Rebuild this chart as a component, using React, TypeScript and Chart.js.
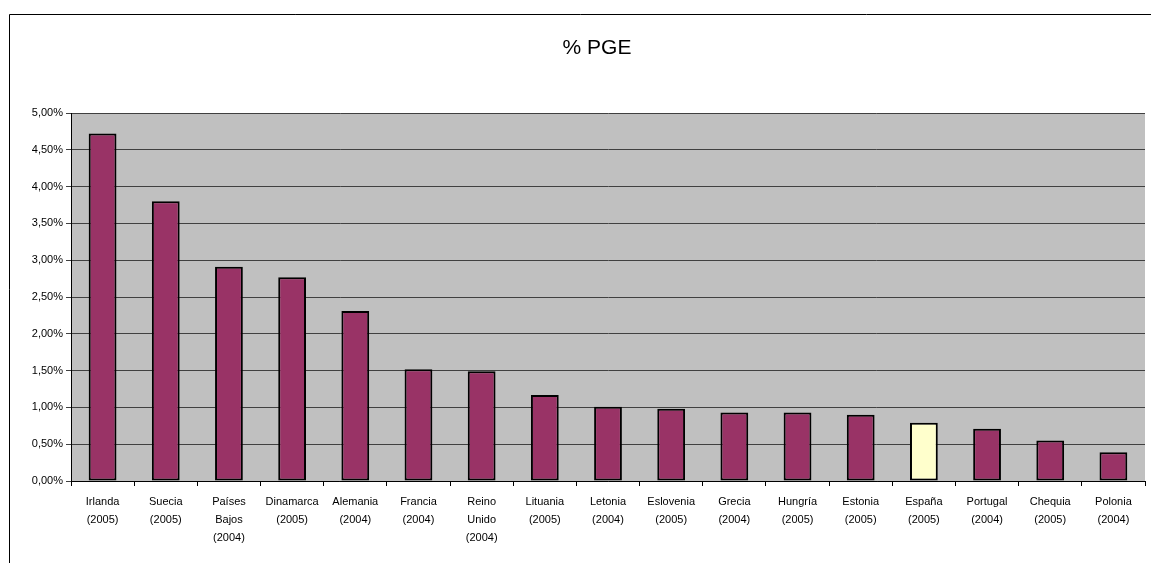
import React, { useEffect, useRef } from "react";
import { Chart, registerables } from "chart.js";

Chart.register(...registerables);

const categories: string[][] = [
  ["Irlanda", "(2005)"],
  ["Suecia", "(2005)"],
  ["Países", "Bajos", "(2004)"],
  ["Dinamarca", "(2005)"],
  ["Alemania", "(2004)"],
  ["Francia", "(2004)"],
  ["Reino", "Unido", "(2004)"],
  ["Lituania", "(2005)"],
  ["Letonia", "(2004)"],
  ["Eslovenia", "(2005)"],
  ["Grecia", "(2004)"],
  ["Hungría", "(2005)"],
  ["Estonia", "(2005)"],
  ["España", "(2005)"],
  ["Portugal", "(2004)"],
  ["Chequia", "(2005)"],
  ["Polonia", "(2004)"],
];

const pgeValues: number[] = [
  4.72, 3.8, 2.91, 2.77, 2.31, 1.52, 1.49, 1.17, 1.01, 0.98, 0.93, 0.93, 0.9,
  0.79, 0.71, 0.55, 0.39,
];

const highlightCategory = "España";
const titleText = "% PGE";

const FONT = "'Liberation Sans', Arial, sans-serif";

export default function App() {
  const canvasRef = useRef<HTMLCanvasElement | null>(null);

  useEffect(() => {
    const canvas = canvasRef.current;
    if (!canvas) return;

    const bgPlugin = {
      id: "excelFrame",
      beforeDraw(chart: any) {
        const ctx = chart.ctx;
        const a = chart.chartArea;
        ctx.save();
        ctx.fillStyle = "#ffffff";
        ctx.fillRect(0, 0, chart.width, chart.height);
        ctx.strokeStyle = "#000000";
        ctx.lineWidth = 1;
        ctx.beginPath();
        ctx.moveTo(9.5, chart.height + 2);
        ctx.lineTo(9.5, 14.5);
        ctx.lineTo(chart.width + 2, 14.5);
        ctx.stroke();
        ctx.fillStyle = "#C0C0C0";
        ctx.fillRect(a.left, a.top, a.right - a.left, a.bottom - a.top);
        ctx.fillStyle = "#000000";
        ctx.font = `21px ${FONT}`;
        ctx.textAlign = "center";
        ctx.textBaseline = "middle";
        ctx.fillText(titleText, 597, 48);
        ctx.restore();
      },
    };

    const colors = categories.map((c) =>
      c[0] === highlightCategory ? "#FFFFCC" : "#993366"
    );

    const chart = new Chart(canvas, {
      type: "bar",
      data: {
        labels: categories,
        datasets: [
          {
            data: pgeValues,
            backgroundColor: colors,
            borderColor: "#000000",
            borderWidth: 2,
            borderSkipped: false,
            categoryPercentage: 1,
            barPercentage: 0.44,
          },
        ],
      },
      options: {
        animation: false,
        responsive: false,
        layout: { padding: { top: 113, right: 6, left: 0, bottom: 0 } },
        plugins: {
          legend: { display: false },
          tooltip: { enabled: false },
          title: { display: false },
        },
        scales: {
          x: {
            grid: {
              offset: true,
              drawOnChartArea: false,
              drawTicks: true,
              tickLength: 5,
              color: "#000000",
            },
            border: { color: "#000000", width: 1 },
            ticks: {
              color: "#000000",
              font: { family: FONT, size: 11, lineHeight: "18px" as any },
              padding: 7,
              maxRotation: 0,
              autoSkip: false,
            },
            afterFit(scale: any) {
              scale.height = 82;
            },
          },
          y: {
            min: 0,
            max: 5,
            grid: {
              color: "#404040",
              drawTicks: true,
              tickLength: 5,
            },
            border: { color: "#000000", width: 1 },
            ticks: {
              stepSize: 0.5,
              color: "#000000",
              font: { family: FONT, size: 11 },
              padding: 3,
              callback: (v: any) => Number(v).toFixed(2).replace(".", ",") + "%",
            },
            afterFit(scale: any) {
              scale.width = 71;
            },
          },
        },
      },
      plugins: [bgPlugin],
    });

    return () => chart.destroy();
  }, []);

  return (
    <div style={{ position: "fixed", left: 0, top: 0, width: 1151, height: 563 }}>
      <canvas ref={canvasRef} width={1151} height={563} style={{ display: "block" }} />
    </div>
  );
}
